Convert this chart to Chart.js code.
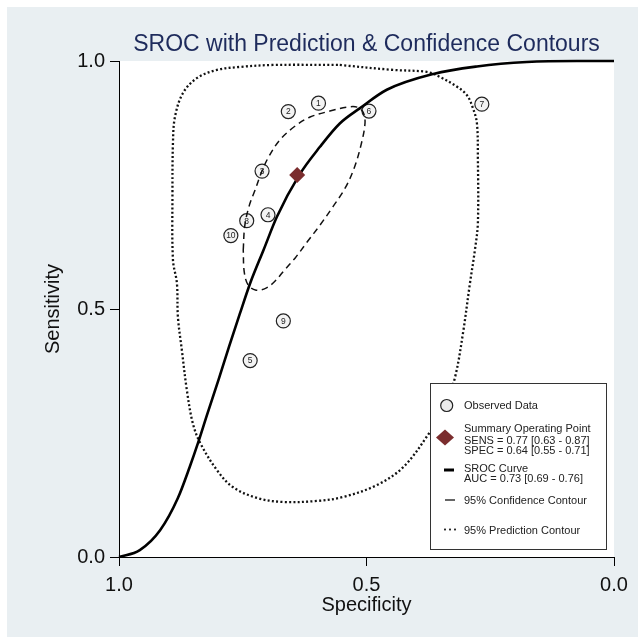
<!DOCTYPE html>
<html>
<head>
<meta charset="utf-8">
<title>SROC with Prediction & Confidence Contours</title>
<script src="https://cdn.jsdelivr.net/npm/chart.js@4.4.0/dist/chart.umd.min.js"></script>
<style>
  html, body { margin: 0; padding: 0; background: #fff; }
  #wrap { width: 638px; height: 637px; position: relative; }
</style>
</head>
<body>
<div id="wrap"><canvas id="sroc"></canvas></div>
<script>
// Observed studies (specificity, sensitivity)
const studyIds = ['1', '2', '3', '4', '5', '6', '7', '8', '9', '10'];
const obsSpec = [0.597, 0.658, 0.711, 0.699, 0.735, 0.495, 0.267, 0.742, 0.668, 0.774];
const obsSens = [0.915, 0.898, 0.778, 0.690, 0.396, 0.899, 0.913, 0.678, 0.476, 0.648];

// Summary operating point
const summarySpec = [0.64];
const summarySens = [0.77];

// SROC curve
const srocSpec = [1.0, 0.958, 0.917, 0.881, 0.857, 0.840, 0.823, 0.799, 0.778, 0.756, 0.735, 0.708, 0.681, 0.636, 0.594, 0.554, 0.513, 0.459, 0.365, 0.277, 0.176, 0.075, 0.0];
const srocSens = [0.0, 0.014, 0.054, 0.119, 0.182, 0.231, 0.284, 0.357, 0.423, 0.490, 0.552, 0.619, 0.686, 0.770, 0.827, 0.874, 0.905, 0.942, 0.974, 0.989, 0.998, 1.0, 1.0];

// 95% confidence contour (closed)
const confSpec = [0.749, 0.746, 0.737, 0.725, 0.712, 0.698, 0.675, 0.644, 0.614, 0.574, 0.539, 0.519, 0.507, 0.503, 0.511, 0.525, 0.543, 0.568, 0.594, 0.620, 0.644, 0.667, 0.685, 0.703, 0.723, 0.739, 0.747, 0.749];
const confSens = [0.619, 0.667, 0.708, 0.740, 0.776, 0.806, 0.841, 0.869, 0.887, 0.899, 0.907, 0.907, 0.897, 0.875, 0.831, 0.784, 0.744, 0.706, 0.669, 0.635, 0.603, 0.577, 0.556, 0.542, 0.538, 0.548, 0.575, 0.619];

// 95% prediction contour (closed)
const predSpec = [0.554, 0.446, 0.378, 0.352, 0.317, 0.297, 0.285, 0.277, 0.275, 0.275, 0.281, 0.291, 0.305, 0.321, 0.341, 0.376, 0.426, 0.479, 0.547, 0.600, 0.669, 0.721, 0.770, 0.802, 0.836, 0.851, 0.863, 0.873, 0.881, 0.883, 0.891, 0.892, 0.891, 0.887, 0.871, 0.842, 0.802, 0.756, 0.689, 0.554];
const predSens = [0.992, 0.982, 0.978, 0.968, 0.948, 0.931, 0.905, 0.875, 0.806, 0.673, 0.619, 0.552, 0.452, 0.363, 0.306, 0.246, 0.181, 0.145, 0.121, 0.113, 0.111, 0.119, 0.141, 0.175, 0.230, 0.270, 0.337, 0.417, 0.484, 0.552, 0.599, 0.734, 0.835, 0.887, 0.935, 0.966, 0.982, 0.988, 0.992, 0.992];

// Axis ticks
const xTicks = [1.0, 0.5, 0.0];
const yTicks = [0.0, 0.5, 1.0];

const FONT = "'Liberation Sans', Arial, Helvetica, sans-serif";

function pts(xs, ys) {
    return xs.map((x, i) => ({ x: x, y: ys[i] }));
}

// Panel background + white plot region
const backdrop = {
    id: 'backdrop',
    beforeDraw(chart) {
        const ctx = chart.ctx;
        const a = chart.chartArea;
        ctx.save();
        ctx.fillStyle = '#ffffff';
        ctx.fillRect(0, 0, chart.width, chart.height);
        ctx.fillStyle = '#e9eff2';
        ctx.fillRect(7, 7, chart.width - 7, chart.height - 7);
        ctx.fillStyle = '#ffffff';
        ctx.fillRect(a.left, a.top, a.right - a.left, a.bottom - a.top);
        ctx.restore();
    }
};

// Title centred over the plot region
const plotTitle = {
    id: 'plotTitle',
    afterDraw(chart) {
        const ctx = chart.ctx;
        const a = chart.chartArea;
        ctx.save();
        ctx.font = '23px ' + FONT;
        ctx.fillStyle = '#1e2b5c';
        ctx.textAlign = 'center';
        ctx.textBaseline = 'middle';
        ctx.fillText('SROC with Prediction & Confidence Contours', (a.left + a.right) / 2, a.top - 16.5);
        ctx.restore();
    }
};

// Study numbers inside the circles (drawn before the lines go over them)
const studyLabels = {
    id: 'studyLabels',
    afterDatasetDraw(chart, args) {
        if (args.index !== 0) return;
        const ctx = chart.ctx;
        const xs = chart.scales.x, ys = chart.scales.y;
        ctx.save();
        ctx.font = '8.5px ' + FONT;
        ctx.fillStyle = '#222';
        ctx.textAlign = 'center';
        ctx.textBaseline = 'middle';
        studyIds.forEach((id, i) => {
            ctx.fillText(id, xs.getPixelForValue(obsSpec[i]), ys.getPixelForValue(obsSens[i]) + 0.5);
        });
        ctx.restore();
    }
};

// Stata-like legend box in the lower right corner
const legendBox = {
    id: 'legendBox',
    afterDraw(chart) {
        const ctx = chart.ctx;
        const a = chart.chartArea;
        const w = 176, h = 166;
        const bx = a.right - 8 - w;
        const by = a.bottom - 8 - h;
        ctx.save();
        ctx.fillStyle = '#ffffff';
        ctx.fillRect(bx, by, w, h);
        ctx.strokeStyle = '#333';
        ctx.lineWidth = 1;
        ctx.strokeRect(bx + 0.5, by + 0.5, w, h);

        // observed data
        ctx.beginPath();
        ctx.arc(bx + 16.7, by + 22.5, 6, 0, Math.PI * 2);
        ctx.fillStyle = '#ececec';
        ctx.fill();
        ctx.strokeStyle = '#222';
        ctx.lineWidth = 1.2;
        ctx.stroke();

        // summary point
        ctx.beginPath();
        ctx.moveTo(bx + 15, by + 46.5);
        ctx.lineTo(bx + 24, by + 54.5);
        ctx.lineTo(bx + 15, by + 62.5);
        ctx.lineTo(bx + 6, by + 54.5);
        ctx.closePath();
        ctx.fillStyle = '#7b2d2e';
        ctx.fill();

        // sroc curve
        ctx.beginPath();
        ctx.moveTo(bx + 14, by + 87);
        ctx.lineTo(bx + 24, by + 87);
        ctx.strokeStyle = '#000';
        ctx.lineWidth = 3;
        ctx.stroke();

        // confidence contour
        ctx.beginPath();
        ctx.moveTo(bx + 15, by + 117);
        ctx.lineTo(bx + 25, by + 117);
        ctx.lineWidth = 1.2;
        ctx.stroke();

        // prediction contour
        ctx.fillStyle = '#111';
        [15, 20, 25].forEach(dx => ctx.fillRect(bx + dx - 0.9, by + 145.6, 1.8, 1.8));

        ctx.font = '11px ' + FONT;
        ctx.fillStyle = '#222';
        ctx.textAlign = 'left';
        ctx.textBaseline = 'middle';
        const tx = bx + 34;
        ctx.fillText('Observed Data', tx, by + 23);
        ctx.fillText('Summary Operating Point', tx, by + 45.5);
        ctx.fillText('SENS = 0.77 [0.63 - 0.87]', tx, by + 57.5);
        ctx.fillText('SPEC = 0.64 [0.55 - 0.71]', tx, by + 68);
        ctx.fillText('SROC Curve', tx, by + 85.5);
        ctx.fillText('AUC = 0.73 [0.69 - 0.76]', tx, by + 96);
        ctx.fillText('95% Confidence Contour', tx, by + 117.5);
        ctx.fillText('95% Prediction Contour', tx, by + 147.5);
        ctx.restore();
    }
};

const ctx = document.getElementById('sroc').getContext('2d');
const chart = new Chart(ctx, {
    type: 'scatter',
    data: {
        datasets: [
            {
                label: 'Observed Data',
                data: pts(obsSpec, obsSens),
                pointRadius: 7,
                pointBackgroundColor: '#f3f3f3',
                pointBorderColor: '#222',
                pointBorderWidth: 1.2,
                showLine: false,
                order: 4
            },
            {
                label: '95% Prediction Contour',
                data: pts(predSpec, predSens),
                showLine: true,
                pointRadius: 0,
                borderColor: '#111',
                borderWidth: 2.3,
                borderDash: [2, 2.3],
                tension: 0.35,
                order: 3
            },
            {
                label: '95% Confidence Contour',
                data: pts(confSpec, confSens),
                showLine: true,
                pointRadius: 0,
                borderColor: '#111',
                borderWidth: 1.5,
                borderDash: [6.5, 4.5],
                tension: 0.35,
                order: 2
            },
            {
                label: 'SROC Curve',
                data: pts(srocSpec, srocSens),
                showLine: true,
                pointRadius: 0,
                borderColor: '#000',
                borderWidth: 2.6,
                cubicInterpolationMode: 'monotone',
                clip: false,
                order: 1
            },
            {
                label: 'Summary Operating Point',
                data: pts(summarySpec, summarySens),
                pointStyle: 'rectRot',
                pointRadius: 8,
                pointBackgroundColor: '#7b2d2e',
                pointBorderColor: '#7b2d2e',
                pointBorderWidth: 0,
                showLine: false,
                order: 0
            }
        ]
    },
    options: {
        responsive: true,
        maintainAspectRatio: false,
        animation: false,
        layout: {
            padding: { left: 41, right: 24, top: 61, bottom: 20 }
        },
        plugins: {
            legend: { display: false },
            tooltip: { enabled: false },
            title: { display: false }
        },
        scales: {
            x: {
                type: 'linear',
                reverse: true,
                min: 0,
                max: 1,
                afterBuildTicks: function(scale) {
                    scale.ticks = xTicks.map(v => ({ value: v }));
                },
                afterFit: function(scale) {
                    scale.height = 60;
                },
                ticks: {
                    autoSkip: false,
                    maxRotation: 0,
                    padding: 7,
                    color: '#111',
                    font: { family: FONT, size: 20 },
                    callback: function(value) {
                        return Number(value).toFixed(1);
                    }
                },
                grid: {
                    drawOnChartArea: false,
                    drawTicks: true,
                    tickLength: 9,
                    color: '#000'
                },
                border: { display: true, color: '#000', width: 1 },
                title: {
                    display: true,
                    text: 'Specificity',
                    color: '#111',
                    padding: 0,
                    font: { family: FONT, size: 20 }
                }
            },
            y: {
                type: 'linear',
                min: 0,
                max: 1,
                afterBuildTicks: function(scale) {
                    scale.ticks = yTicks.map(v => ({ value: v }));
                },
                afterFit: function(scale) {
                    scale.width = 78;
                },
                ticks: {
                    autoSkip: false,
                    padding: 5,
                    color: '#111',
                    font: { family: FONT, size: 20 },
                    callback: function(value) {
                        return Number(value).toFixed(1);
                    }
                },
                grid: {
                    drawOnChartArea: false,
                    drawTicks: true,
                    tickLength: 9,
                    color: '#000'
                },
                border: { display: true, color: '#000', width: 1 },
                title: {
                    display: true,
                    text: 'Sensitivity',
                    color: '#111',
                    padding: 0,
                    font: { family: FONT, size: 20 }
                }
            }
        }
    },
    plugins: [backdrop, studyLabels, plotTitle, legendBox]
});
</script>
</body>
</html>
